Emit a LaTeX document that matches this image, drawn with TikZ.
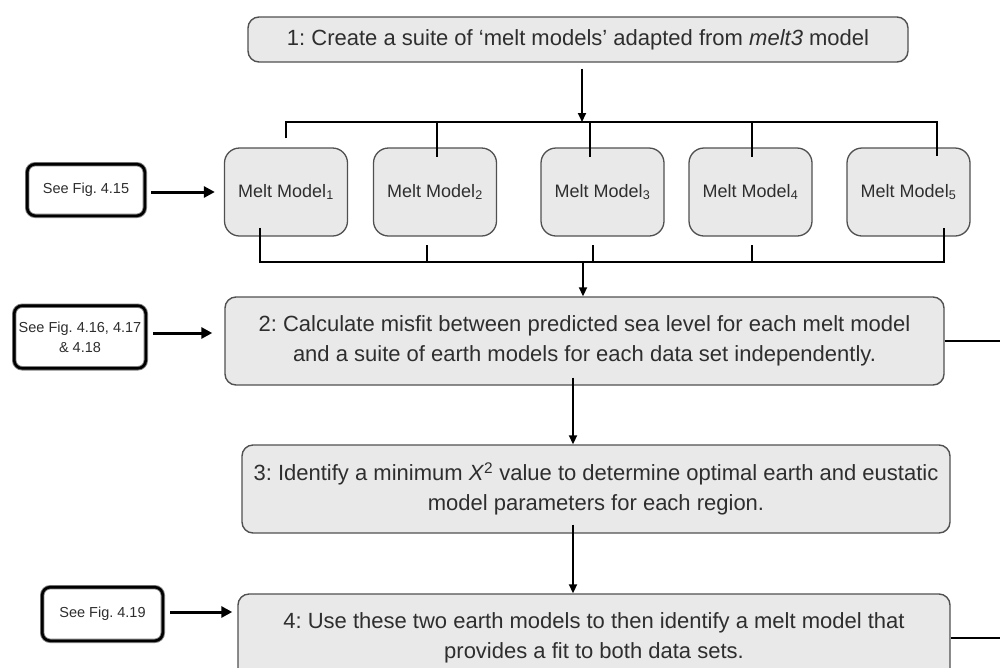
\documentclass[tikz,border=0pt]{standalone}
\usepackage{fontspec}
\setmainfont{Liberation Sans}
\usetikzlibrary{arrows.meta}
\definecolor{boxfill}{HTML}{E9E9E9}
\definecolor{boxline}{HTML}{505050}
\definecolor{txt}{HTML}{2E2E2E}
\frenchspacing
\begin{document}
\begin{tikzpicture}[x=1pt,y=-1pt,
  stepbox/.style={draw=boxline, fill=boxfill, line width=1.4pt, rounded corners=11pt,
    inner sep=0pt, text=txt, font=\fontsize{22}{30}\selectfont, align=center},
  meltbox/.style={draw=boxline, fill=boxfill, line width=1.3pt, rounded corners=15pt,
    minimum width=123pt, minimum height=88pt, inner sep=0pt, text=txt,
    font=\fontsize{18}{22}\selectfont},
  refbox/.style={draw=black!50, double=black, double distance=2.6pt, line width=0.9pt,
    fill=white, rounded corners=8pt, inner sep=0pt, text=txt,
    font=\fontsize{14.5}{20}\selectfont, align=center},
  arr/.style={line width=1.8pt, -{Triangle[length=9pt,width=8pt]}},
  bigarr/.style={line width=3pt, -{Triangle[length=11pt,width=11pt]}},
  bar/.style={line width=2.8pt, line join=miter}]
\useasboundingbox (0,0) rectangle (1000,667);
\clip (0,0) rectangle (1000,667);

% step boxes
\node[stepbox, minimum width=660pt, minimum height=45pt] (b1) at (578,39.5)
  {1: Create a suite of ‘melt models’ adapted from \textit{melt3} model};
\node[stepbox, minimum width=719pt, minimum height=88pt] (b2) at (584.5,341)
  {2: Calculate misfit between predicted sea level for each melt model\\
   and a suite of earth models for each data set independently.};
\node[stepbox, minimum width=708pt, minimum height=88pt] (b3) at (596,489)
  {3: Identify a minimum \textit{X}\textsuperscript{2} value to determine optimal earth and eustatic\\
   model parameters for each region.};
\node[stepbox, minimum width=712pt, minimum height=88pt] (b4) at (594,638)
  {4: Use these two earth models to then identify a melt model that\\
   provides a fit to both data sets.};

% melt models
\node[meltbox] (m1) at (286,192) {Melt Model\textsubscript{1}};
\node[meltbox] (m2) at (435,192) {Melt Model\textsubscript{2}};
\node[meltbox] (m3) at (602.5,192) {Melt Model\textsubscript{3}};
\node[meltbox] (m4) at (750.5,192) {Melt Model\textsubscript{4}};
\node[meltbox] (m5) at (908.5,192) {Melt Model\textsubscript{5}};

% reference boxes
\node[refbox, minimum width=117.6pt, minimum height=51.6pt] (s1) at (86,190) {See Fig. 4.15};
\node[refbox, minimum width=131.6pt, minimum height=62.6pt] (s2) at (80,337)
  {See Fig. 4.16, 4.17\\ \& 4.18};
\node[refbox, minimum width=120.6pt, minimum height=53.6pt] (s3) at (102.5,614) {See Fig. 4.19};

% top distribution bar
\coordinate (tj) at (582,122);
\coordinate (tl) at (286,122);
\coordinate (tr) at (937,122);
\draw[arr] (b1.south -| tj) ++(0,6) -- (tj);
\draw[bar] (tl |- m1.north) ++(0,-9) -- (tl) -- (tr) -- ([yshift=-9pt]tr |- m5.north);
\foreach \x in {437, 590, 752}
  \draw[bar] (\x,122) -- ([yshift=-9pt]\x,148);

% bottom collection bar
\coordinate (bj) at (583,262);
\coordinate (bl) at (260,262);
\coordinate (br) at (944,262);
\draw[bar] ([yshift=9pt]bl |- m1.south) -- (bl) -- (br) -- ([yshift=9pt]br |- m5.south);
\foreach \x in {427, 593, 752}
  \draw[bar] (\x,262) -- (\x,245);
\draw[arr] (bj) -- (bj |- b2.north);

% flow between steps
\coordinate (fx) at (573,0);
\draw[arr] ([yshift=8pt]b2.south -| fx) -- (b3.north -| fx);
\draw[arr] ([yshift=9pt]b3.south -| fx) -- (b4.north -| fx);

% right-hand exits
\coordinate (e2) at (1000,341);
\coordinate (e4) at (1000,638);
\draw[line width=2.8pt] (b2.east) -- (e2);
\draw[line width=2.8pt] (b4.east) -- (e4);

% reference arrows
\draw[bigarr] ([xshift=6pt]s1.east |- 0,192) -- ([xshift=-9pt]m1.west |- 0,192);
\draw[bigarr] ([xshift=7pt]s2.east |- 0,333) -- ([xshift=-12pt]b2.west |- 0,333);
\draw[bigarr] ([xshift=7pt]s3.east |- 0,612) -- ([xshift=-5pt]b4.west |- 0,612);
\end{tikzpicture}
\end{document}
